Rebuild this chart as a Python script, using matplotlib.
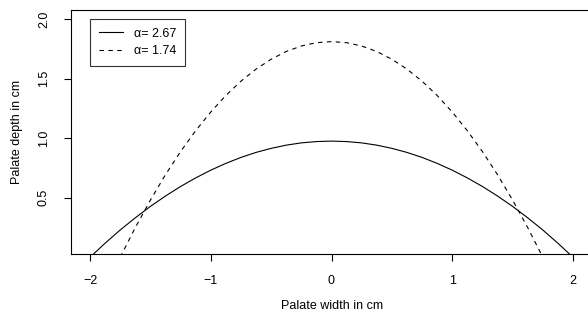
import matplotlib
matplotlib.use("Agg")
import matplotlib.pyplot as plt

# values
x_solid = [-2.0, -1.875, -1.75, -1.625, -1.5, -1.375, -1.25, -1.125, -1.0,
           -0.875, -0.75, -0.625, -0.5, -0.375, -0.25, -0.125, 0.0,
           0.125, 0.25, 0.375, 0.5, 0.625, 0.75, 0.875, 1.0,
           1.125, 1.25, 1.375, 1.5, 1.625, 1.75, 1.875, 2.0]
y_solid = [0.0, 0.118, 0.229, 0.331, 0.427, 0.514, 0.594, 0.666, 0.731,
           0.788, 0.838, 0.880, 0.914, 0.941, 0.960, 0.971, 0.975,
           0.971, 0.960, 0.941, 0.914, 0.880, 0.838, 0.788, 0.731,
           0.666, 0.594, 0.514, 0.427, 0.331, 0.229, 0.118, 0.0]
x_dash = [-1.75, -1.625, -1.5, -1.375, -1.25, -1.125, -1.0, -0.875, -0.75,
          -0.625, -0.5, -0.375, -0.25, -0.125, 0.0,
          0.125, 0.25, 0.375, 0.5, 0.625, 0.75, 0.875, 1.0,
          1.125, 1.25, 1.375, 1.5, 1.625, 1.75]
y_dash = [0.0, 0.249, 0.480, 0.693, 0.887, 1.062, 1.219, 1.358, 1.478,
          1.579, 1.662, 1.727, 1.773, 1.801, 1.81,
          1.801, 1.773, 1.727, 1.662, 1.579, 1.478, 1.358, 1.219,
          1.062, 0.887, 0.693, 0.480, 0.249, 0.0]
labels = ["\u03b1= 2.67", "\u03b1= 1.74"]
x_ticks = [-2, -1, 0, 1, 2]
y_ticks = [0.5, 1.0, 1.5, 2.0]

plt.rcParams['font.family'] = ['Liberation Sans', 'DejaVu Sans']

fig = plt.figure(figsize=(5.88, 3.2), dpi=100)
ax = fig.add_axes([70.7 / 588, 0.205, 521.6 / 588, 0.764])

ax.plot(x_solid, y_solid, color='black', lw=0.8, label=labels[0])
ax.plot(x_dash, y_dash, color='black', lw=0.8, linestyle=(0, (4, 4)), label=labels[1])

ax.set_xlim(-2.16, 2.16)
ax.set_ylim(0.024, 2.076)
ax.set_xticks(x_ticks)
ax.set_xticklabels(["\u2212" + str(abs(v)) if v < 0 else str(v) for v in x_ticks])
ax.set_yticks(y_ticks)
ax.set_yticklabels(["%.1f" % v for v in y_ticks], rotation=90, va='center')

for s in ax.spines.values():
    s.set_linewidth(0.8)
ax.tick_params(axis='x', length=5, width=0.8, pad=10, labelsize=9)
ax.tick_params(axis='y', length=5, width=0.8, pad=10, labelsize=9)

fig.text(332 / 588, 1 - 306 / 320, "Palate width in cm", ha='center', va='center', fontsize=9)
fig.text(17 / 588, 1 - 132 / 320, "Palate depth in cm", ha='center', va='center',
         rotation=90, fontsize=9)

leg = ax.legend(loc='upper left', bbox_to_anchor=(90 / 588, 1 - 19 / 320),
                bbox_transform=fig.transFigure, borderaxespad=0, fontsize=9,
                frameon=True, fancybox=False, edgecolor='black',
                handlelength=1.9, handletextpad=0.9, borderpad=0.7, labelspacing=0.45)
leg.get_frame().set_linewidth(0.8)

fig.savefig("out.png", dpi=100)
